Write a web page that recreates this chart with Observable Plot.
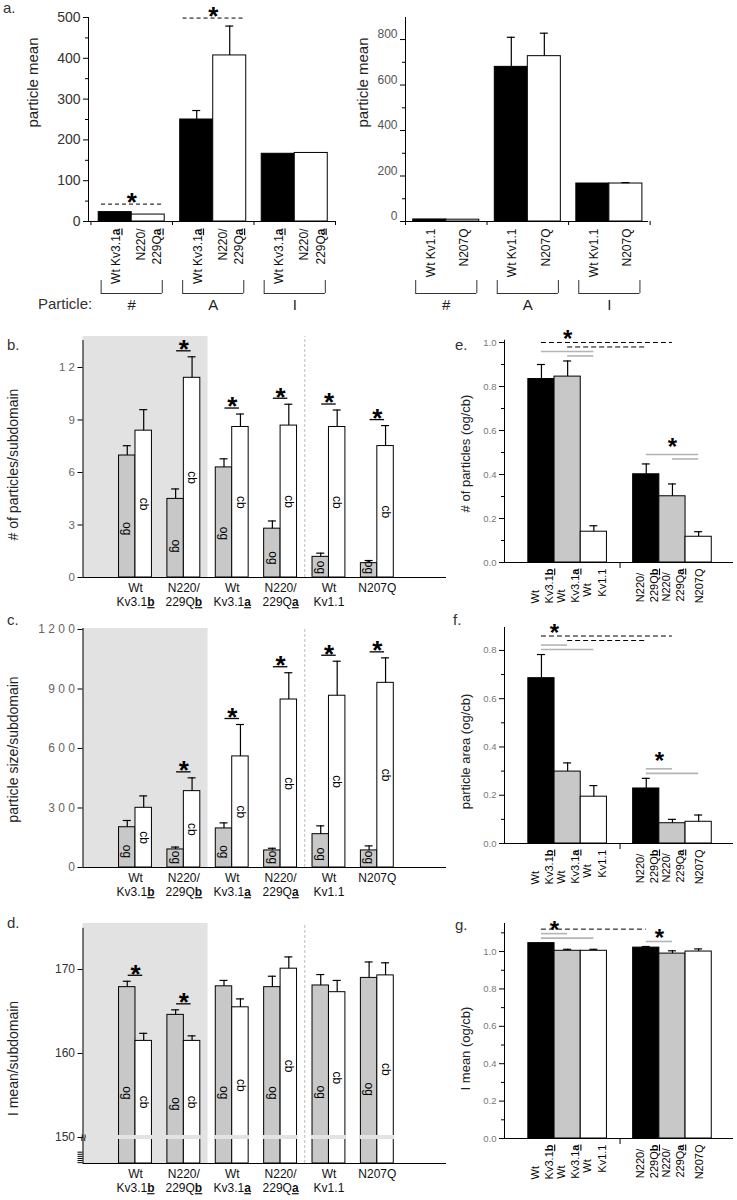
<!DOCTYPE html>
<html><head><meta charset="utf-8">
<script src="https://cdn.jsdelivr.net/npm/d3@7"></script>
<script src="https://cdn.jsdelivr.net/npm/@observablehq/plot@0.6"></script>
<style>
body{margin:0;background:#fff;}
#fig{position:relative;width:737px;height:1200px;font-family:"Liberation Sans",Arial,sans-serif;color:#000;overflow:hidden;background:#fff}
.lbl{position:absolute;font-size:15px;line-height:16px;color:#333;white-space:nowrap}
</style></head><body><div id="fig"></div><script>
// ---------------- data ----------------
const aGroups = ["#", "A", "I"];
const aKv3Names = ["Wt Kv3.1_a", "N220/\n229Q_a"];
const aKv3Wt = [23, 250, 166];
const aKv3WtErr = [0, 22, 0];
const aKv3Mut = [17, 407, 168];
const aKv3MutErr = [0, 72, 0];
const aKv3Sig = [true, true, false];
const aKv1Names = ["Wt Kv1.1", "N207Q"];
const aKv1Wt = [9, 680, 167];
const aKv1WtErr = [0, 130, 0];
const aKv1Mut = [8, 727, 167];
const aKv1MutErr = [0, 101, 4];
const aKv1Sig = [false, false, false];
const aLeftTicks = [0, 100, 200, 300, 400, 500];
const aRightTicks = [0, 200, 400, 600, 800];

const pairNames = ["Wt\nKv3.1_b", "N220/\n229Q_b", "Wt\nKv3.1_a", "N220/\n229Q_a", "Wt\nKv1.1", "N207Q"];
const shadedPairs = 2;   // Kv3.1b isoform pairs
const kv1Start = 4;      // first Kv1.1 pair

const bOg = [6.97, 4.49, 6.29, 2.79, 1.18, 0.82];
const bOgErr = [0.56, 0.57, 0.49, 0.44, 0.21, 0.15];
const bCb = [8.39, 11.41, 8.60, 8.68, 8.60, 7.51];
const bCbErr = [1.20, 1.20, 0.74, 1.22, 0.97, 1.17];
const bSig = [false, true, true, true, true, true];
const bTicks = [0, 3, 6, 9, 12];

const cOg = [203, 91, 197, 86, 168, 86];
const cOgErr = [34, 12, 28, 11, 42, 23];
const cCb = [301, 385, 560, 847, 866, 931];
const cCbErr = [60, 67, 161, 135, 174, 126];
const cSig = [false, true, true, true, true, true];
const cTicks = [0, 300, 600, 900, 1200];

const dOg = [167.9, 164.6, 168.0, 167.9, 168.1, 169.0];
const dOgErr = [0.7, 0.6, 0.7, 1.3, 1.3, 1.9];
const dCb = [161.5, 161.5, 165.5, 170.1, 167.3, 169.3];
const dCbErr = [0.9, 0.6, 1.0, 1.4, 1.4, 1.5];
const dSig = [true, true, false, false, false, false];
const dTicks = [150, 160, 170];
const dBreakTicks = [147, 147.25, 147.5, 147.75, 148, 148.25];

const ratioNames = ["Wt\nKv3.1_b", "Wt\nKv3.1_a", "Wt\nKv1.1", "N220/\n229Q_b", "N220/\n229Q_a", "N207Q"];
const eRatio = [0.834, 0.845, 0.140, 0.401, 0.301, 0.117];
const eRatioErr = [0.066, 0.071, 0.027, 0.047, 0.056, 0.023];
const eComparisons = [
  {from: 1, to: 2, dashed: false, level: 0}, {from: 0, to: 2, dashed: false, level: 1},
  {from: 1, to: 3, dashed: true, level: 2}, {from: 0, to: 4, dashed: true, level: 3},
  {from: 4, to: 5, dashed: false, level: 0}, {from: 3, to: 5, dashed: false, level: 1}];
const eStars = [{from: 0, to: 2, level: 5}, {from: 3, to: 5, level: 4}];

const fRatio = [0.685, 0.298, 0.194, 0.228, 0.084, 0.090];
const fRatioErr = [0.098, 0.036, 0.046, 0.042, 0.016, 0.028];
const fComparisons = [
  {from: 0, to: 2, dashed: false, level: 0}, {from: 0, to: 1, dashed: false, level: 1},
  {from: 1, to: 3, dashed: true, level: 2}, {from: 0, to: 4, dashed: true, level: 3},
  {from: 3, to: 5, dashed: false, level: 0}, {from: 3, to: 4, dashed: false, level: 1}];
const fStars = [{from: 0, to: 1, level: 5}, {from: 3, to: 4, level: 4}];

const gRatio = [1.045, 1.004, 1.004, 1.021, 0.989, 1.000];
const gRatioErr = [0, 0.008, 0.008, 0.006, 0.015, 0.014];
const gComparisons = [
  {from: 0, to: 2, dashed: false, level: 0}, {from: 0, to: 1, dashed: false, level: 1},
  {from: 0, to: 3, dashed: true, level: 2}, {from: 3, to: 4, dashed: false, level: 0}];
const gStars = [{from: 0, to: 1, level: 3}, {from: 3, to: 4, level: 2}];

// ---------------- helpers ----------------
const FONT = '"Liberation Sans", Arial, sans-serif';
const fig = document.getElementById("fig");

function base(cfg) {
  const {svg, frame} = cfg;
  return {
    width: svg.w, height: svg.h,
    marginLeft: frame.l - svg.x, marginRight: svg.x + svg.w - frame.r,
    marginTop: frame.t - svg.y, marginBottom: svg.y + svg.h - frame.b,
    x: {type: "linear", domain: cfg.x, axis: null},
    y: {type: "linear", domain: cfg.y, axis: null},
    style: {position: "absolute", left: svg.x + "px", top: svg.y + "px", background: "transparent",
            overflow: "visible", fontFamily: FONT, color: "black", maxWidth: "none"}
  };
}

function yAxis(ticks, minor, o) {
  return [
    Plot.axisY({ticks, tickSize: 5, tickFormat: () => "", label: null, stroke: "black"}),
    minor ? Plot.axisY({ticks: minor, tickSize: o.minorSize ?? 3, tickFormat: () => "", label: null, stroke: "black"}) : null,
    Plot.axisY({ticks, tickSize: 0, tickPadding: 8, tickFormat: o.fmt ?? (d => String(d)),
                fontSize: o.fontSize, fill: o.fill, dy: o.dy ?? 0, label: null})
  ];
}

function axisLines(cfg) {
  const [y0, y1] = cfg.y;
  return [
    Plot.ruleX([cfg.x[0]], {x: d => d, y1: y0, y2: cfg.axisTop ?? y1, stroke: "black"}),
    Plot.ruleY([y0], {y: d => d, x1: cfg.x[0], x2: cfg.x[1], stroke: "black"})
  ];
}

function title(cfg) {
  return Plot.text([cfg.title], {frameAnchor: "left", text: d => d, rotate: -90, textAnchor: "middle",
    dx: cfg.titleX - cfg.frame.l, dy: cfg.titleDy, fontSize: cfg.titleFont ?? 14, fill: "#222"});
}

function decorate(svg) {
  const ns = "http://www.w3.org/2000/svg";
  svg.querySelectorAll("text, tspan").forEach(el => {
    if (el.childElementCount) return;
    const s = el.textContent, k = s.indexOf("_");
    if (k < 0) return;
    el.textContent = "";
    for (const [t, bold] of [[s.slice(0, k), false], [s.slice(k + 1, k + 2), true], [s.slice(k + 2), false]]) {
      if (!t) continue;
      const sp = document.createElementNS(ns, "tspan");
      sp.textContent = t;
      if (bold) { sp.setAttribute("font-weight", "bold"); sp.setAttribute("text-decoration", "underline"); }
      el.appendChild(sp);
    }
  });
}

function fixStartLabels(svg) {
  svg.querySelectorAll('g[fill="#020202"] text').forEach(t => {
    const spans = [...t.children].filter(c => c.tagName === "tspan" && c.getAttribute("x") !== null);
    const L = spans.length ? Math.max(...spans.map(s => s.getComputedTextLength())) : t.getComputedTextLength();
    t.setAttribute("transform", (t.getAttribute("transform") || "") + ` translate(${-L},0)`);
  });
}

function add(svg) { decorate(svg); fig.appendChild(svg); fixStartLabels(svg); }

// ---------------- panel a ----------------
function aPanel(cfg, names, wt, wtErr, mut, mutErr, sig) {
  const [y0] = cfg.y, w = 0.405;
  const rows = [];
  aGroups.forEach((g, i) => {
    rows.push({i, m: 0, v: wt[i], e: wtErr[i], name: names[0], x1: i - w, x2: i});
    rows.push({i, m: 1, v: mut[i], e: mutErr[i], name: names[1], x1: i, x2: i + w});
  });
  rows.forEach(r => r.c = (r.x1 + r.x2) / 2);
  const errRows = rows.filter(r => r.e > 0);
  const sigRows = aGroups.map((g, i) => ({i, top: Math.max(wt[i] + wtErr[i], mut[i] + mutErr[i])})).filter((d, i) => sig[i]);
  const bounds = d3.range(aGroups.length + 1).map(k => k - 0.5);
  const gi = aGroups.map((g, i) => ({g, i}));
  const ends = gi.flatMap(d => [d.i - 0.375, d.i + 0.375]);
  return Plot.plot({
    ...base(cfg),
    marks: [
      Plot.rect(rows.filter(r => r.m === 0), {x1: "x1", x2: "x2", y1: y0, y2: "v", fill: "black", stroke: "black"}),
      Plot.rect(rows.filter(r => r.m === 1), {x1: "x1", x2: "x2", y1: y0, y2: "v", fill: "white", stroke: "black"}),
      Plot.ruleX(errRows, {x: "c", y1: "v", y2: r => r.v + r.e, strokeWidth: 1.2}),
      Plot.ruleY(errRows, {y: r => r.v + r.e, x1: "c", x2: "c", insetLeft: -4, insetRight: -4, strokeWidth: 1.2}),
      ...axisLines(cfg),
      Plot.ruleX(bounds, {x: d => d, y1: y0, y2: y0, insetBottom: -4}),
      ...yAxis(cfg.ticks, cfg.minor, cfg.axis),
      Plot.ruleY(sigRows, {y: "top", x1: d => d.i - 0.37, x2: d => d.i + 0.37, dy: -8, strokeDasharray: "4,3"}),
      Plot.text(sigRows, {x: "i", y: "top", text: () => "*", dy: -9, fontSize: 26, fontWeight: "bold"}),
      Plot.text(rows, {x: "c", y: y0, text: "name", rotate: -90, textAnchor: "end", dy: 7, fontSize: 12, lineHeight: 1.35, fill: "#111"}),
      Plot.ruleX(ends, {x: d => d, y1: y0, y2: y0, insetTop: 59, insetBottom: -72, stroke: "#333"}),
      Plot.ruleY(gi, {y: y0, x1: d => d.i - 0.375, x2: d => d.i + 0.375, dy: 72, stroke: "#333"}),
      Plot.text(gi, {x: "i", y: y0, text: "g", dy: 84, fontSize: 15, fill: "#222"}),
      title(cfg)
    ]
  });
}

// ---------------- panels b, c, d ----------------
function pairPanel(cfg, og, ogErr, cb, cbErr, sig) {
  const [y0, y1] = cfg.y, w = 0.34;
  const ppu = (cfg.frame.b - cfg.frame.t) / (y1 - y0);
  const rows = pairNames.map((n, i) => ({i, n, og: og[i], oge: ogErr[i], cb: cb[i], cbe: cbErr[i],
    top: Math.max(og[i] + ogErr[i], cb[i] + cbErr[i]), sig: sig[i]}));
  const sigRows = rows.filter(r => r.sig);
  return Plot.plot({
    ...base(cfg),
    marks: [
      Plot.rect([shadedPairs], {x1: cfg.x[0], x2: d => d - 0.5, y1: y0, y2: y1, fill: "#e2e2e2"}),
      Plot.ruleX([kv1Start], {x: d => d - 0.5, y1: y0, y2: y1, stroke: "#bdbdbd", strokeDasharray: "3,2"}),
      Plot.rect(rows, {x1: d => d.i - w, x2: "i", y1: y0, y2: "og", fill: "#c8c8c8", stroke: "black"}),
      Plot.rect(rows, {x1: "i", x2: d => d.i + w, y1: y0, y2: "cb", fill: "white", stroke: "black"}),
      cfg.breakAt != null ? Plot.rect(rows, {x1: d => d.i - w - 0.02, x2: d => d.i + w + 0.02, y1: cfg.breakAt, y2: cfg.breakAt, insetTop: -2, insetBottom: -2, fill: "#e3e3e3"}) : null,
      Plot.ruleX(rows, {x: d => d.i - w / 2, y1: "og", y2: d => d.og + d.oge, strokeWidth: 1.2}),
      Plot.ruleY(rows, {y: d => d.og + d.oge, x1: d => d.i - w / 2, x2: d => d.i - w / 2, insetLeft: -4, insetRight: -4, strokeWidth: 1.2}),
      Plot.ruleX(rows, {x: d => d.i + w / 2, y1: "cb", y2: d => d.cb + d.cbe, strokeWidth: 1.2}),
      Plot.ruleY(rows, {y: d => d.cb + d.cbe, x1: d => d.i + w / 2, x2: d => d.i + w / 2, insetLeft: -4, insetRight: -4, strokeWidth: 1.2}),
      ...axisLines(cfg),
      ...yAxis(cfg.ticks, cfg.minor, cfg.axis),
      cfg.breakAt != null ? Plot.text([cfg.breakAt], {x: cfg.x[0], y: d => d, text: () => "\u2248", rotate: 90, fontSize: 13}) : null,
      Plot.ruleY(sigRows, {y: "top", x1: d => d.i - 0.15, x2: d => d.i + 0.15, dy: -6, strokeWidth: 1.3}),
      Plot.text(sigRows, {x: "i", y: "top", text: () => "*", dy: -7, fontSize: 26, fontWeight: "bold"}),
      Plot.text(rows, {x: d => d.i - w / 2, y: d => y0 + Math.max((d.og - y0) * 0.4, 10 / ppu), text: () => "og", rotate: 90, fontSize: 12}),
      Plot.text(rows, {x: d => d.i + w / 2, y: d => y0 + (d.cb - y0) * 0.5, text: () => "cb", rotate: 90, fontSize: 12}),
      Plot.text(rows, {x: "i", y: y0, text: "n", dy: 4, lineAnchor: "top", fontSize: 12, lineHeight: 1.2, fill: "#111"}),
      title(cfg)
    ]
  });
}

// ---------------- panels e, f, g ----------------
function ratioPanel(cfg, vals, errs, comps, stars) {
  const [y0, y1] = cfg.y;
  const ppu = (cfg.frame.b - cfg.frame.t) / (y1 - y0);
  const pos = i => i < 3 ? i : i + 1, grp = i => i < 3 ? 0 : 1;
  const rows = vals.map((v, i) => ({i, p: pos(i), m: i % 3, v, e: errs[i], name: ratioNames[i]}));
  const gTop = [0, 1].map(g => d3.max(rows.filter(r => grp(r.i) === g), r => r.v + r.e));
  const lift = c => Math.max(gTop[grp(c.from)], gTop[grp(c.to)]) + (5 + 4.5 * c.level) / ppu;
  const lines = comps.map(c => ({...c, x1: pos(c.from), x2: pos(c.to), y: lift(c)}));
  const starRows = stars.map(s => ({x: (pos(s.from) + pos(s.to)) / 2, y: lift(s)}));
  const errRows = rows.filter(r => r.e > 0);
  const fills = ["black", "#c8c8c8", "white"];
  return Plot.plot({
    ...base(cfg),
    marks: [
      ...fills.map((f, m) => Plot.rect(rows.filter(r => r.m === m), {x1: r => r.p - 0.5, x2: r => r.p + 0.5, y1: y0, y2: "v", fill: f, stroke: "black"})),
      Plot.ruleX(errRows, {x: "p", y1: "v", y2: r => r.v + r.e, strokeWidth: 1.2}),
      Plot.ruleY(errRows, {y: r => r.v + r.e, x1: "p", x2: "p", insetLeft: -4, insetRight: -4, strokeWidth: 1.2}),
      ...axisLines(cfg),
      Plot.ruleX([pos(3) - 1], {x: d => d, y1: y0, y2: y0, insetBottom: -6}),
      ...yAxis(cfg.ticks, cfg.minor, cfg.axis),
      Plot.ruleY(lines.filter(l => !l.dashed), {y: "y", x1: "x1", x2: "x2", stroke: "#b4b4b4", strokeWidth: 1.6}),
      Plot.ruleY(lines.filter(l => l.dashed), {y: "y", x1: "x1", x2: "x2", stroke: "black", strokeDasharray: "5,3"}),
      Plot.text(starRows, {x: "x", y: "y", text: () => "*", dy: 6, fontSize: 24, fontWeight: "bold"}),
      Plot.text(rows, {x: "p", y: y0, text: "name", rotate: -90, textAnchor: "start", dy: 6, fontSize: 11, lineHeight: 1.3, fill: "#020202"}),
      title(cfg)
    ]
  });
}

const spaced = d => String(d).split("").join(" ");
const f1 = d3.format(".1f");

add(aPanel({svg: {x: 0, y: 0, w: 360, h: 320}, frame: {l: 88, r: 335, t: 17, b: 221}, x: [-0.53, 2.5], y: [0, 500],
  ticks: aLeftTicks, minor: d3.range(50, 500, 100), axis: {fontSize: 14, fill: "#333"},
  title: "particle mean", titleX: 33, titleDy: -37, titleFont: 15}, aKv3Names, aKv3Wt, aKv3WtErr, aKv3Mut, aKv3MutErr, aKv3Sig));
add(aPanel({svg: {x: 360, y: 0, w: 377, h: 320}, frame: {l: 405, r: 648, t: 17, b: 221}, x: [-0.5, 2.48], y: [0, 897],
  ticks: aRightTicks, minor: d3.range(100, 900, 200), axis: {fontSize: 12, fill: "#555", dy: -5},
  title: "particle mean", titleX: 363, titleDy: -37, titleFont: 15}, aKv1Names, aKv1Wt, aKv1WtErr, aKv1Mut, aKv1MutErr, aKv1Sig));

add(pairPanel({svg: {x: 0, y: 320, w: 470, h: 292}, frame: {l: 82.5, r: 446, t: 336, b: 577}, x: [-1.085, 6.43], y: [0, 13.77], axisTop: 13.54,
  ticks: bTicks, axis: {fontSize: 11.5, fill: "#666", fmt: spaced},
  title: "# of particles/subdomain", titleX: 13, titleDy: 7.5}, bOg, bOgErr, bCb, bCbErr, bSig));
add(pairPanel({svg: {x: 0, y: 612, w: 470, h: 292}, frame: {l: 82.5, r: 446, t: 628, b: 867}, x: [-1.085, 6.43], y: [0, 1205],
  ticks: cTicks, axis: {fontSize: 12, fill: "#666", fmt: spaced},
  title: "particle size/subdomain", titleX: 13, titleDy: 1.5}, cOg, cOgErr, cCb, cCbErr, cSig));
add(pairPanel({svg: {x: 0, y: 905, w: 470, h: 295}, frame: {l: 82.5, r: 446, t: 923, b: 1163}, x: [-1.085, 6.43], y: [146.9, 175.48], axisTop: 174.9,
  ticks: dTicks, minor: dBreakTicks, axis: {fontSize: 12, fill: "#333", minorSize: 5}, breakAt: dTicks[0],
  title: "I mean/subdomain", titleX: 13, titleDy: 15}, dOg, dOgErr, dCb, dCbErr, dSig));

add(ratioPanel({svg: {x: 452, y: 322, w: 285, h: 292}, frame: {l: 504, r: 733, t: 342, b: 562}, x: [-1.41, 7.33], y: [0, 1.0], axisTop: 1.01,
  ticks: d3.range(0, 1.01, 0.2), minor: d3.range(0.1, 1, 0.2), axis: {fontSize: 9.5, fill: "#777", fmt: f1},
  title: "# of particles (og/cb)", titleX: 465, titleDy: 1, titleFont: 13}, eRatio, eRatioErr, eComparisons, eStars));
add(ratioPanel({svg: {x: 452, y: 612, w: 285, h: 292}, frame: {l: 504, r: 733, t: 627, b: 843}, x: [-1.41, 7.33], y: [0, 0.895],
  ticks: d3.range(0, 0.81, 0.2), minor: d3.range(0.1, 0.9, 0.2), axis: {fontSize: 9.5, fill: "#777", fmt: f1},
  title: "particle area (og/cb)", titleX: 465, titleDy: 16, titleFont: 13}, fRatio, fRatioErr, fComparisons, fStars));
add(ratioPanel({svg: {x: 452, y: 905, w: 285, h: 295}, frame: {l: 504, r: 733, t: 923, b: 1138}, x: [-1.41, 7.33], y: [0, 1.15],
  ticks: d3.range(0, 1.01, 0.2), minor: d3.range(0.1, 1.15, 0.2), axis: {fontSize: 9.5, fill: "#777", fmt: f1},
  title: "I mean (og/cb)", titleX: 465, titleDy: 17.5, titleFont: 13}, gRatio, gRatioErr, gComparisons, gStars));

// panel letters and row label
[["a.", 3, 0], ["b.", 7, 337], ["c.", 7, 612], ["d.", 7, 915], ["e.", 455, 337], ["f.", 453, 612], ["g.", 455, 917],
 ["Particle:", 38, 296]].forEach(([t, x, y]) => {
  const d = document.createElement("div");
  d.className = "lbl"; d.textContent = t; d.style.left = x + "px"; d.style.top = y + "px";
  fig.appendChild(d);
});
</script></body></html>
